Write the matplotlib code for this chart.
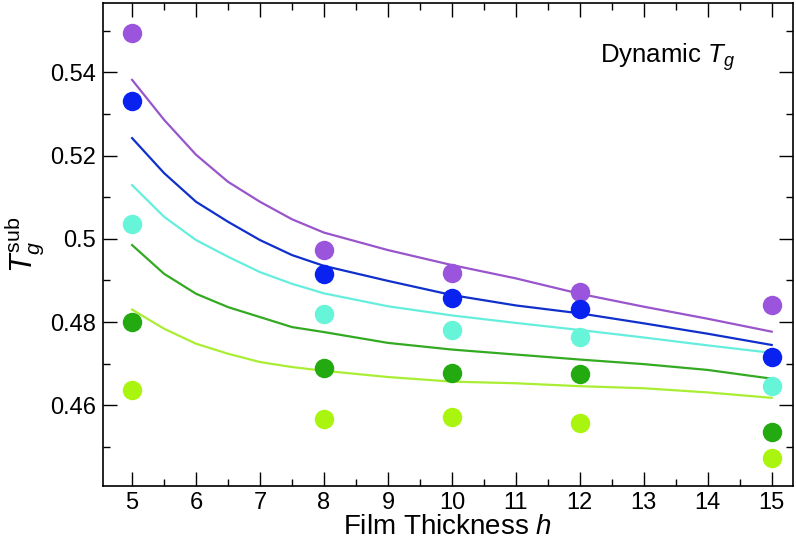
import numpy as np
import matplotlib
matplotlib.use("Agg")
import matplotlib.pyplot as plt
from matplotlib.ticker import MultipleLocator, FuncFormatter

plt.rcParams['font.family'] = ['Liberation Sans', 'DejaVu Sans']
plt.rcParams['mathtext.fontset'] = 'custom'
plt.rcParams['mathtext.rm'] = 'Liberation Sans'
plt.rcParams['mathtext.it'] = 'Liberation Sans:italic'

# simulation points
h_pts = [5, 8, 10, 12, 15]
pts_purple = [0.5495, 0.4973, 0.4917, 0.4872, 0.4840]
pts_blue = [0.5330, 0.4916, 0.4857, 0.4832, 0.4717]
pts_cyan = [0.5035, 0.4820, 0.4780, 0.4764, 0.4646]
pts_green = [0.4800, 0.4690, 0.4678, 0.4676, 0.4535]
pts_yellow = [0.4636, 0.4567, 0.4571, 0.4558, 0.4473]

# model curves
h_line = [5, 5.5, 6, 6.5, 7, 7.5, 8, 9, 10, 11, 12, 13, 14, 15]
line_purple = [0.5382, 0.5286, 0.5202, 0.5137, 0.5089, 0.5047, 0.5015,
               0.4973, 0.4937, 0.4905, 0.4868, 0.4837, 0.4808, 0.4777]
line_blue = [0.5242, 0.5158, 0.5089, 0.5041, 0.4997, 0.4961, 0.4935,
             0.4899, 0.4865, 0.4840, 0.4821, 0.4797, 0.4772, 0.4745]
line_cyan = [0.5129, 0.5053, 0.4997, 0.4957, 0.4920, 0.4892, 0.4869,
             0.4838, 0.4816, 0.4798, 0.4781, 0.4763, 0.4744, 0.4726]
line_green = [0.4985, 0.4916, 0.4868, 0.4836, 0.4812, 0.4788, 0.4776,
              0.4750, 0.4734, 0.4722, 0.4710, 0.4699, 0.4685, 0.4664]
line_yellow = [0.4830, 0.4784, 0.4748, 0.4724, 0.4704, 0.4692, 0.4683,
               0.4668, 0.4657, 0.4653, 0.4646, 0.4641, 0.4631, 0.4618]

series = [
    (pts_purple, line_purple, '#9b55dd', '#9955cc'),
    (pts_blue, line_blue, '#0a22f0', '#1030cc'),
    (pts_cyan, line_cyan, '#66f5d8', '#66eedd'),
    (pts_green, line_green, '#22aa10', '#33aa22'),
    (pts_yellow, line_yellow, '#aaf510', '#aaee33'),
]

fig = plt.figure(figsize=(7.96, 5.46), dpi=100)
ax = fig.add_axes([0.129, 0.109, 0.867, 0.885])

for pts, line, c_pt, c_ln in series:
    ax.plot(h_line, line, color=c_ln, lw=1.6, zorder=2)
    ax.plot(h_pts, pts, 'o', color=c_pt, ms=14, mec='none', zorder=3)

ax.set_xlim(4.54, 15.33)
ax.set_ylim(0.4405, 0.5566)
ax.xaxis.set_major_locator(MultipleLocator(1))
ax.xaxis.set_minor_locator(MultipleLocator(0.5))
ax.yaxis.set_major_locator(MultipleLocator(0.02))
ax.yaxis.set_minor_locator(MultipleLocator(0.01))
ax.yaxis.set_major_formatter(FuncFormatter(lambda v, p: '%g' % round(v, 3)))
ax.tick_params(which='both', direction='in', top=True, right=True,
               labelsize=17, width=1)
ax.tick_params(which='major', length=10)
ax.tick_params(which='minor', length=5)
ax.tick_params(axis='x', pad=4)
ax.tick_params(axis='y', pad=5)
for s in ax.spines.values():
    s.set_linewidth(1.2)

ax.set_xlabel('Film Thickness $h$', fontsize=20, labelpad=0)
ax.set_ylabel(r'$T_g^{\rm sub}$', fontsize=22, labelpad=0)
ax.yaxis.set_label_coords(-0.082, 0.5)
ax.text(0.916, 0.889, 'Dynamic $T_g$', transform=ax.transAxes,
        ha='right', va='center', fontsize=18.5)

fig.savefig('out.png', dpi=100)
